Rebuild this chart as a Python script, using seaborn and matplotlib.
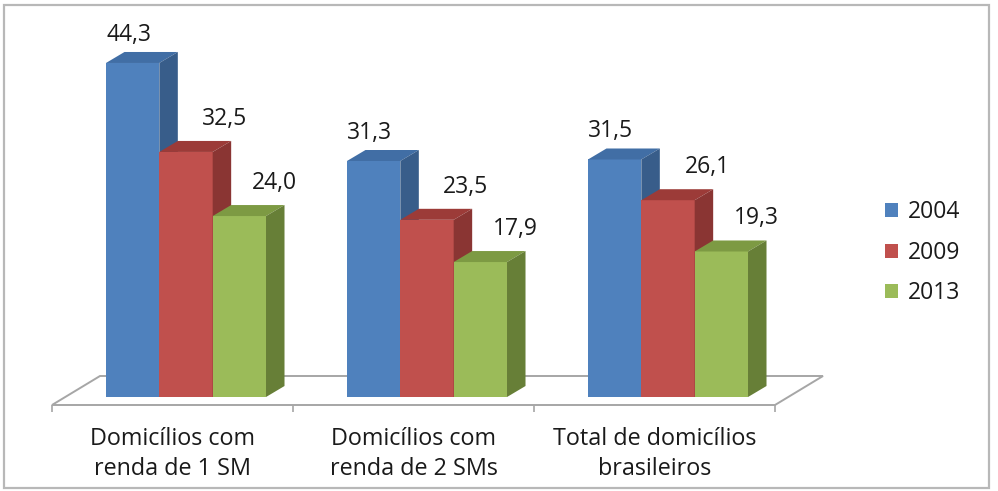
import numpy as np
import pandas as pd
import matplotlib
matplotlib.use("Agg")
import matplotlib.pyplot as plt
import seaborn as sns
from matplotlib.patches import Polygon, Rectangle

# ---------------- data ----------------
categories = ["Domicílios com\nrenda de 1 SM",
              "Domicílios com\nrenda de 2 SMs",
              "Total de domicílios\nbrasileiros"]
years = ["2004", "2009", "2013"]
values_2004 = [44.3, 31.3, 31.5]
values_2009 = [32.5, 23.5, 26.1]
values_2013 = [24.0, 17.9, 19.3]
series = [values_2004, values_2009, values_2013]

# ---------------- styles ----------------
front_colors = ["#4F81BD", "#C0504D", "#9BBB59"]
top_colors = ["#416EA5", "#9C3B38", "#7D9A43"]
side_colors = ["#385D8A", "#8A3533", "#677F37"]
text_color = "#1A1A1A"
line_gray = "#A6A6A6"

sns.set_theme(style="white")
plt.rcParams["font.family"] = ["Open Sans", "DejaVu Sans"]

df = pd.DataFrame({
    "categoria": [c for _ in years for c in categories],
    "ano": [y for y in years for _ in categories],
    "valor": [v for s in series for v in s],
})

fig = plt.figure(figsize=(9.98, 4.91), dpi=100)
ax = fig.add_axes([52 / 998, 86 / 491, 723 / 998, 385 / 491])

sns.barplot(data=df, x="categoria", y="valor", hue="ano",
            order=categories, hue_order=years, palette=front_colors,
            saturation=1, width=0.664, errorbar=None, linewidth=0, ax=ax)

leg = ax.get_legend()
handles = list(leg.legend_handles)
labels = [t.get_text() for t in leg.get_texts()]
leg.remove()

xl, xr = -0.556, 2.444
yb, yt = -1.06, 50.0
ax.set_xlim(xl, xr)
ax.set_ylim(yb, yt)


def px2data(dxp, dyp):
    t = ax.transData
    ox, oy = t.transform((0, 0))
    inv = t.inverted()
    a = inv.transform((ox + dxp, oy + dyp))
    b = inv.transform((ox, oy))
    return a[0] - b[0], a[1] - b[1]


bdx, bdy = px2data(18.5, 11)   # bar depth
fdx, fdy = px2data(48, 29)     # floor depth

# floor
floor = Polygon([(xl, yb), (xr, yb), (xr + fdx, yb + fdy), (xl + fdx, yb + fdy)],
                closed=True, facecolor="white", edgecolor=line_gray, lw=1.4,
                clip_on=False, zorder=1)
ax.add_patch(floor)

LABEL_DX = [-4, 39, 35]
LABEL_DY = [28, 33, 33]

for hi, cont in enumerate(ax.containers):
    for bar, v in zip(cont, series[hi]):
        z = 10 + hi * 3
        bar.set_zorder(z)
        x0 = bar.get_x()
        w = bar.get_width()
        h = bar.get_height()
        top = Polygon([(x0, h), (x0 + w, h), (x0 + w + bdx, h + bdy), (x0 + bdx, h + bdy)],
                      closed=True, facecolor=top_colors[hi], edgecolor="none",
                      zorder=z + 1, clip_on=False)
        side = Polygon([(x0 + w, 0), (x0 + w + bdx, bdy), (x0 + w + bdx, h + bdy), (x0 + w, h)],
                       closed=True, facecolor=side_colors[hi], edgecolor="none",
                       zorder=z + 1, clip_on=False)
        ax.add_patch(top)
        ax.add_patch(side)
        ax.annotate(f"{v:.1f}".replace(".", ","), (x0 + w / 2, h),
                    xytext=(LABEL_DX[hi], LABEL_DY[hi]), textcoords="offset pixels",
                    ha="center", va="center", fontsize=16.5, color=text_color,
                    zorder=30, annotation_clip=False)

# axes cosmetics
for s in ["left", "right", "top", "bottom"]:
    ax.spines[s].set_visible(False)
ax.set_yticks([])
ax.set_xlabel("")
ax.set_ylabel("")
ax.set_xticks([xl + k for k in range(4)], minor=True)
ax.set_xticks([xl + 0.5 + k for k in range(3)])
ax.set_xticklabels(categories)
ax.tick_params(axis="x", which="minor", length=5.2, width=1.2, color=line_gray,
               direction="out", bottom=True)
ax.tick_params(axis="x", which="major", length=0, pad=16, labelsize=16.8,
               labelcolor=text_color)
for lab in ax.get_xticklabels():
    lab.set_linespacing(1.3)

fig.legend(handles, labels, loc="center left", bbox_to_anchor=(885 / 998, 0.485),
           bbox_transform=fig.transFigure, frameon=False, fontsize=16.5,
           handlelength=0.55, handleheight=0.55, handletextpad=0.45,
           labelspacing=0.72, borderpad=0, borderaxespad=0,
           labelcolor=text_color)

fig.add_artist(Rectangle((4 / 998, 3 / 491), 985 / 998, 483 / 491,
                         transform=fig.transFigure, fill=False,
                         ec="#B8B8B8", lw=1.6))

fig.savefig("out.png", dpi=100)
